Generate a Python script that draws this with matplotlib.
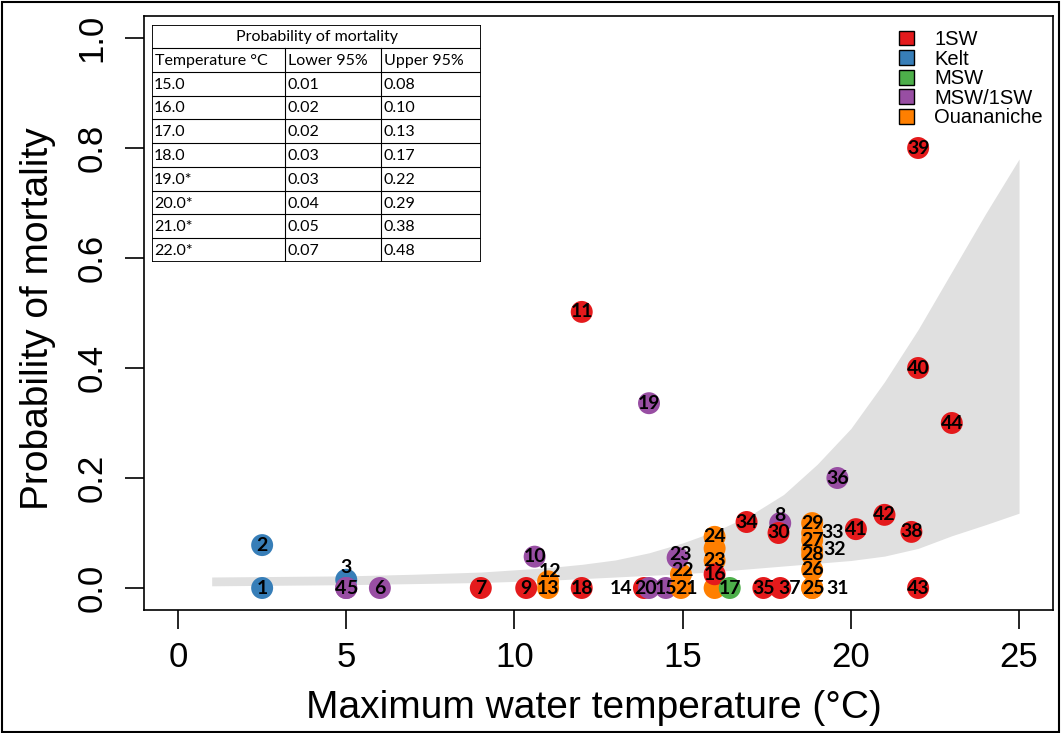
import matplotlib
matplotlib.use('Agg')
import matplotlib.pyplot as plt
from matplotlib.patches import Rectangle, Patch
import numpy as np

# confidence band of the fitted curve
band_temp  = [1, 3, 5, 7, 9, 11, 12, 13, 14, 15, 16, 17, 18, 19, 20, 21, 22, 23, 24, 25]
band_lower = [0.004, 0.005, 0.006, 0.008, 0.010, 0.014, 0.017, 0.020, 0.023, 0.026, 0.030,
              0.035, 0.040, 0.045, 0.050, 0.058, 0.072, 0.095, 0.115, 0.136]
band_upper = [0.020, 0.021, 0.022, 0.025, 0.029, 0.037, 0.043, 0.051, 0.064, 0.082, 0.104,
              0.132, 0.170, 0.225, 0.290, 0.375, 0.470, 0.575, 0.680, 0.780]

# fish points, in drawing order
fish_id = ['1', '2', '3', '4', '5', '6', '7', '9', '10', '12', '13', '11', '18', '19',
           '14', '20', '15', '21', '22', '23',
           '24', '', '23', '', '16', '17', '34', '8', '30', '35', '37',
           '29', '27', '28', '26', '25', '33', '32', '31',
           '36', '41', '42', '38', '43', '40', '39', '44']
fish_temp = [2.5, 2.5, 5.0, 5.0, 5.0, 6.0, 9.0, 10.35, 10.6, 11.0, 11.0, 12.0, 12.0, 14.0,
             13.85, 14.0, 14.5, 14.95, 14.95, 14.85,
             15.95, 15.95, 15.95, 15.95, 15.95, 16.4, 16.9, 17.9, 17.85, 17.4, 17.9,
             18.85, 18.85, 18.85, 18.85, 18.85, 18.85, 18.85, 18.85,
             19.6, 20.15, 21.0, 21.8, 22.0, 22.0, 22.0, 23.0]
fish_mort = [0.0, 0.078, 0.015, 0.0, 0.0, 0.0, 0.0, 0.0, 0.057, 0.012, 0.0, 0.502, 0.0, 0.336,
             0.0, 0.0, 0.0, 0.0, 0.025, 0.055,
             0.093, 0.072, 0.05, 0.0, 0.025, 0.0, 0.12, 0.118, 0.10, 0.0, 0.0,
             0.118, 0.087, 0.06, 0.033, 0.0, 0.10, 0.07, 0.0,
             0.20, 0.107, 0.133, 0.102, 0.0, 0.40, 0.80, 0.30]
fish_group = ['Kelt', 'Kelt', 'Kelt', 'MSW/1SW', 'MSW/1SW', 'MSW/1SW', '1SW', '1SW', 'MSW/1SW',
              'Ouananiche', 'Ouananiche', '1SW', '1SW', 'MSW/1SW',
              '1SW', 'MSW/1SW', 'MSW/1SW', 'Ouananiche', 'Ouananiche', 'MSW/1SW',
              'Ouananiche', 'Ouananiche', 'Ouananiche', 'Ouananiche', '1SW', 'MSW', '1SW',
              'MSW/1SW', '1SW', '1SW', '1SW',
              'Ouananiche', 'Ouananiche', 'Ouananiche', 'Ouananiche', 'Ouananiche',
              'Ouananiche', 'Ouananiche', 'Ouananiche',
              'MSW/1SW', '1SW', '1SW', '1SW', '1SW', '1SW', '1SW', '1SW']

# labels that were shifted off their point (dx, dy)
label_shift = {2: (0, 0.022), 3: (-0.18, 0), 4: (0.18, 0), 9: (0.05, 0.018),
               14: (-0.68, 0), 15: (-0.1, 0), 17: (0.17, 0), 18: (0.05, 0.007),
               19: (0.1, 0.005), 27: (0, 0.014), 30: (0.27, 0),
               35: (0.05, 0), 36: (0.62, 0), 37: (0.67, 0), 38: (0.77, 0)}

groups = ['1SW', 'Kelt', 'MSW', 'MSW/1SW', 'Ouananiche']
group_colors = {'1SW': '#E41A1C', 'Kelt': '#377EB8', 'MSW': '#4DAF4A',
                'MSW/1SW': '#984EA3', 'Ouananiche': '#FF7F00'}

# table of predicted mortality
table_temp = ['15.0', '16.0', '17.0', '18.0', '19.0*', '20.0*', '21.0*', '22.0*']
table_lower = ['0.01', '0.02', '0.02', '0.03', '0.03', '0.04', '0.05', '0.07']
table_upper = ['0.08', '0.10', '0.13', '0.17', '0.22', '0.29', '0.38', '0.48']

plt.rcParams['font.family'] = ['Liberation Sans', 'DejaVu Sans']

W, H = 1063, 733
fig = plt.figure(figsize=(W / 100, H / 100), dpi=100)
ax = fig.add_axes([144.4 / W, 1 - 610 / H, 908.3 / W, 594 / H])

ax.fill_between(band_temp, band_lower, band_upper, color='#E0E0E0', lw=0, zorder=1)

for i in range(len(fish_id)):
    ax.scatter(fish_temp[i], fish_mort[i], s=250, color=group_colors[fish_group[i]],
               edgecolors='none', zorder=2 + i * 0.01)
for i in range(len(fish_id)):
    if fish_id[i] == '':
        continue
    dx, dy = label_shift.get(i, (0, 0))
    ax.text(fish_temp[i] + dx, fish_mort[i] + dy, fish_id[i], family='Lato',
            fontweight='bold', fontsize=14, ha='center', va='center', zorder=5)

ax.set_xlim(-1, 26)
ax.set_ylim(-0.04, 1.04)
ax.set_xticks([0, 5, 10, 15, 20, 25])
ax.set_yticks([0, 0.2, 0.4, 0.6, 0.8, 1.0])
ax.set_yticklabels(['0.0', '0.2', '0.4', '0.6', '0.8', '1.0'], rotation=90, va='center')
ax.tick_params(length=14, width=1.2, labelsize=25, direction='out')
ax.tick_params(axis='x', pad=8)
ax.tick_params(axis='y', pad=12)
for s in ax.spines.values():
    s.set_linewidth(1.2)

ax.set_xlabel('Maximum water temperature (°C)', fontsize=28, va='center')
ax.xaxis.set_label_coords(0.495, -0.165)
ax.set_ylabel('Probability of mortality', fontsize=28, va='center')
ax.yaxis.set_label_coords(-0.117, 0.49)

handles = [Patch(facecolor=group_colors[g], edgecolor='black', lw=1) for g in groups]
ax.legend(handles, groups, loc='upper left', bbox_to_anchor=(899 / W, 1 - 30 / H),
          bbox_transform=fig.transFigure, frameon=False, fontsize=14.5,
          handlelength=0.75, handleheight=0.75, labelspacing=0.03, handletextpad=1.0,
          borderpad=0, borderaxespad=0)

# table drawn in pixel units
tx0, ty0, tw, th = 152, 25, 329, 237
tax = fig.add_axes([tx0 / W, 1 - (ty0 + th) / H, tw / W, th / H])
tax.set_xlim(0, tw)
tax.set_ylim(th, 0)
tax.axis('off')
tax.add_patch(Rectangle((0, 0), tw, th, facecolor='white', edgecolor='black', lw=1.3, zorder=0))
title_h = 23
row_h = (th - title_h) / 9
col_x = [0, 133, 229]
tax.plot([0, tw], [title_h, title_h], color='black', lw=0.8)
for r in range(1, 9):
    y = title_h + r * row_h
    tax.plot([0, tw], [y, y], color='black', lw=0.8)
for c in col_x[1:]:
    tax.plot([c, c], [title_h, th], color='black', lw=0.8)
tkw = dict(family='Lato', fontsize=11.5, va='center')
tax.text(tw / 2, title_h / 2 + 1, 'Probability of mortality', ha='center', **tkw)
head = ['Temperature °C', 'Lower 95%', 'Upper 95%']
for c in range(3):
    tax.text(col_x[c] + 3, title_h + row_h / 2 + 1, head[c], ha='left', **tkw)
for r in range(8):
    y = title_h + (r + 1.5) * row_h + 1
    for c, vals in enumerate([table_temp, table_lower, table_upper]):
        tax.text(col_x[c] + 2, y, vals[r], ha='left', **tkw)

# border around the whole picture
fig.patches.append(Rectangle((0.002, 0.002), 0.994, 0.995, transform=fig.transFigure,
                             fill=False, edgecolor='black', lw=1.5))

fig.savefig('out.png', dpi=100)
